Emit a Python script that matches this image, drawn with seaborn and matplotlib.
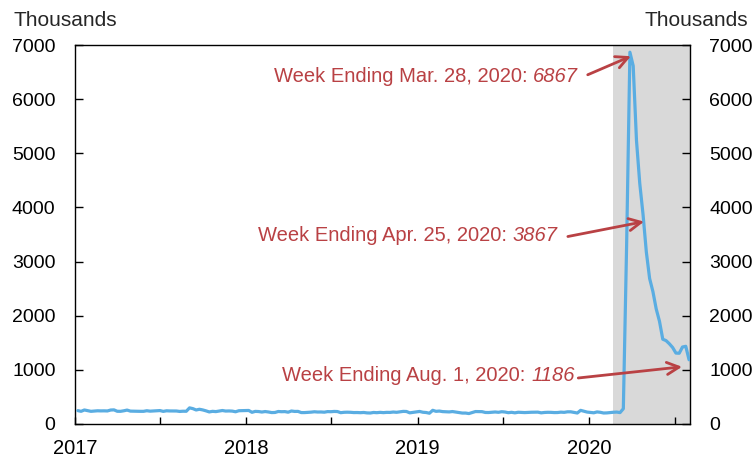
import numpy as np
import pandas as pd
import matplotlib
matplotlib.use("Agg")
import matplotlib.pyplot as plt
import matplotlib.dates as mdates
import matplotlib.transforms as mtransforms
import seaborn as sns

# Weekly initial claims (thousands), week ending Saturdays
claims_2017 = [247, 234, 259, 246, 234, 239, 244, 242, 243, 241, 258, 261,
               235, 234, 244, 257, 238, 236, 232, 234, 234, 245, 237, 241, 244,
               248, 233, 244, 241, 241, 240, 232, 236, 235, 298, 284, 259, 272, 260,
               243, 223, 234, 229, 240, 249, 239, 241, 238, 226, 245, 247, 247]
claims_2018 = [250, 216, 233, 230, 221, 230, 222, 211, 213, 231, 227, 229, 218,
               240, 232, 233, 211, 211, 214, 219, 226, 221, 222, 218, 229, 227,
               232, 230, 209, 216, 218, 216, 211, 212, 209, 213, 205, 203, 213,
               209, 215, 210, 215, 214, 221, 216, 224, 233, 231, 206, 214, 220]
claims_2019 = [232, 217, 212, 199, 253, 234, 239, 229, 225, 223, 230, 221, 211,
               202, 202, 193, 212, 230, 230, 228, 213, 212, 218, 222, 216, 227,
               221, 209, 216, 206, 217, 215, 211, 214, 217, 217, 219, 206, 213,
               216, 215, 211, 212, 219, 215, 225, 225, 214, 203, 252, 235, 220]
claims_2020 = [214, 207, 223, 216, 203, 205, 211, 217, 220, 211, 282, 3307, 6867,
               6615, 5237, 4442, 3867, 3176, 2687, 2446, 2126, 1897,
               1566, 1540, 1482, 1413, 1310, 1307, 1422, 1435, 1186]

values = claims_2017 + claims_2018 + claims_2019 + claims_2020
dates = pd.date_range("2017-01-07", "2020-08-01", freq="W-SAT")
df = pd.DataFrame({"date": dates[:len(values)], "claims": values})

recession_start = "2020-02-20"
x_start, x_end = "2017-01-01", "2020-08-03"
y_ticks = [0, 1000, 2000, 3000, 4000, 5000, 6000, 7000]

ann_labels = ["Week Ending Mar. 28, 2020: ", "Week Ending Apr. 25, 2020: ", "Week Ending Aug. 1, 2020: "]
ann_numbers = ["6867", "3867", "1186"]
ann_dates = ["2020-03-28", "2020-04-25", "2020-08-01"]
ann_values = [6867, 3867, 1186]

sns.set_style("ticks")
plt.rcParams["font.family"] = ["Liberation Sans", "DejaVu Sans"]

fig = plt.figure(figsize=(7.56, 4.58), dpi=100)
ax = fig.add_axes([75/756, 1-424/458, (690-75)/756, (424-45)/458])

ax.axvspan(pd.Timestamp(recession_start), pd.Timestamp(x_end), color="#d9d9d9", lw=0, zorder=0)
sns.lineplot(data=df, x="date", y="claims", ax=ax, color="#5aade2", lw=2.3, zorder=3)

ax.set_xlim(pd.Timestamp(x_start), pd.Timestamp(x_end))
ax.set_ylim(0, 7000)
ax.set_yticks(y_ticks)
ax.set_xlabel("")
ax.set_ylabel("")

ax.xaxis.set_major_locator(mdates.MonthLocator(bymonth=[1, 7]))
ticks = ax.get_xticks()
labels = [str(d.year) if d.month == 1 else "" for d in mdates.num2date(ticks)]
ax.set_xticks(ticks)
ax.set_xticklabels(labels)

ax.tick_params(axis="both", direction="in", colors="black", length=5, width=1)
ax.tick_params(axis="x", pad=10.5, labelsize=14.5)
ax.tick_params(axis="y", labelsize=14, right=True, labelright=True, length=6, pad=14)
for s in ax.spines.values():
    s.set_visible(True)
    s.set_color("black")
    s.set_linewidth(1)

fig.text(13/756, 1-20/458, "Thousands", fontsize=15, ha="left", va="center")
fig.text(748/756, 1-20/458, "Thousands", fontsize=15, ha="right", va="center")

red = "#b94144"
text_pos = [(0.818, 0.918), (0.785, 0.497), (0.813, 0.128)]
tip_offsets_px = [(1, -4), (1, -7), (-7, -7)]
shrinks = [5, 5, 0]
for label, num, d, v, (tx, ty), (dx, dy), sa in zip(ann_labels, ann_numbers, ann_dates, ann_values,
                                                   text_pos, tip_offsets_px, shrinks):
    tr = ax.transData + mtransforms.ScaledTranslation(dx/100, dy/100, fig.dpi_scale_trans)
    num_ann = ax.annotate(num, xy=(mdates.date2num(pd.Timestamp(d)), v), xycoords=tr,
                          xytext=(tx, ty), textcoords="axes fraction",
                          ha="right", va="center", fontsize=14.5, color=red, style="italic",
                          arrowprops=dict(arrowstyle="->,head_length=0.6,head_width=0.3",
                                          color=red, lw=2, shrinkA=sa, shrinkB=0,
                                          relpos=(1, 0.35)),
                          zorder=5)
    ax.annotate(label, xy=(0, 0), xycoords=num_ann, ha="right", va="bottom",
                fontsize=14.5, color=red, zorder=5)

fig.savefig("out.png", dpi=100)
